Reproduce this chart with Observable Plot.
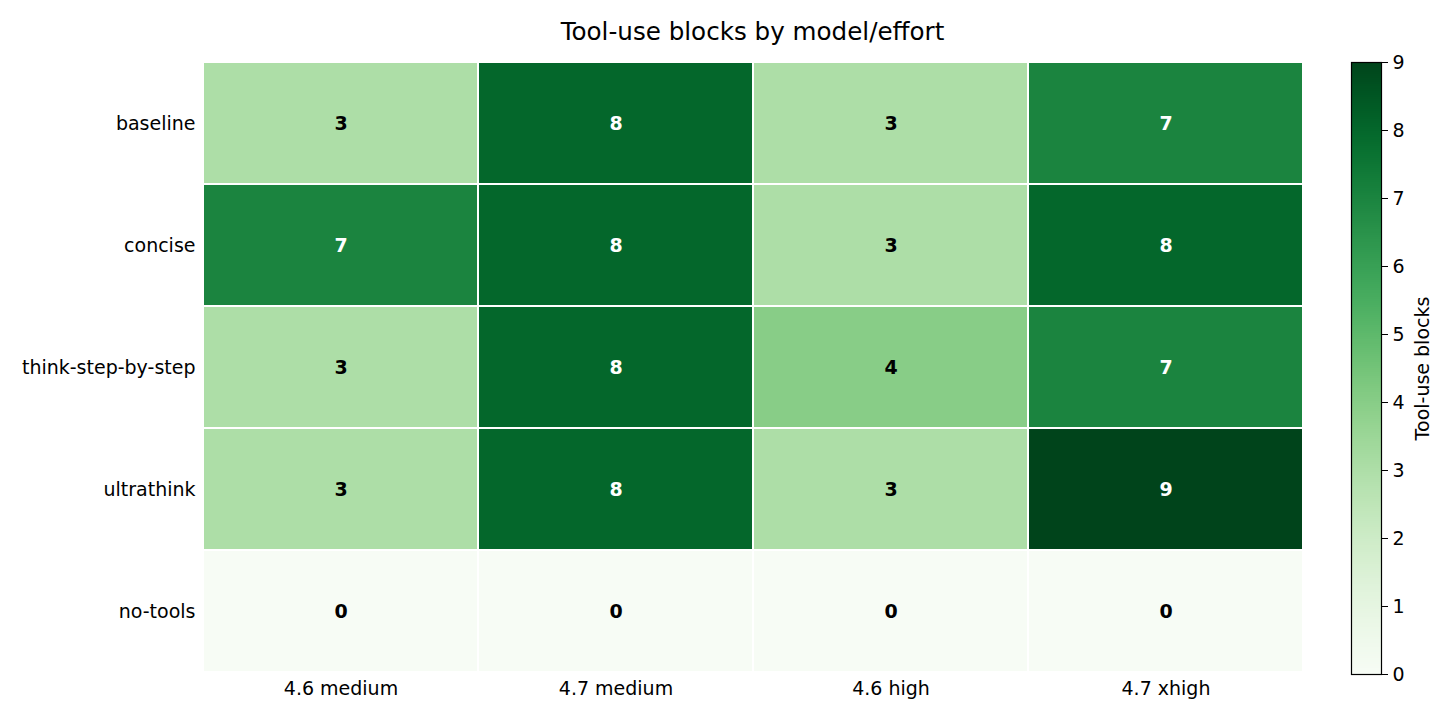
<!DOCTYPE html>
<html>
<head>
<meta charset="utf-8">
<script src="https://cdn.jsdelivr.net/npm/d3@7"></script>
<script src="https://cdn.jsdelivr.net/npm/@observablehq/plot@0.6"></script>
<style>
  html, body { margin: 0; padding: 0; background: #fff; }
  #wrap { width: 1456px; height: 721px; position: relative; font-family: "DejaVu Sans", sans-serif; }
  #title { position: absolute; left: 0; width: 1505px; top: 17px; text-align: center; font-size: 24.6px; color: #000; }
  #heat { position: absolute; left: 0; top: 50px; }
  #cbar { position: absolute; left: 1330px; top: 50px; }
</style>
</head>
<body>
<div id="wrap">
  <div id="title">Tool-use blocks by model/effort</div>
  <div id="heat"></div>
  <div id="cbar"></div>
</div>
<script>
const prompts = ["baseline", "concise", "think-step-by-step", "ultrathink", "no-tools"];
const configs = ["4.6 medium", "4.7 medium", "4.6 high", "4.7 xhigh"];
const values = [
  [3, 8, 3, 7],
  [7, 8, 3, 8],
  [3, 8, 4, 7],
  [3, 8, 3, 9],
  [0, 0, 0, 0]
];
const colorTicks = [0, 1, 2, 3, 4, 5, 6, 7, 8, 9];
const vmin = 0, vmax = 9;

const cells = [];
prompts.forEach((p, i) => configs.forEach((c, j) => cells.push({prompt: p, config: c, value: values[i][j]})));

const colorOpts = {type: "linear", scheme: "greens", domain: [vmin, vmax]};
const font = {fontFamily: "DejaVu Sans", fontSize: "19px", color: "#000", background: "transparent", overflow: "visible"};

const heat = Plot.plot({
  width: 1330,
  height: 671,
  marginLeft: 202,
  marginRight: 27,
  marginTop: 11,
  marginBottom: 49,
  style: font,
  x: {domain: configs, padding: 0, label: null},
  y: {domain: prompts, padding: 0, label: null},
  color: colorOpts,
  marks: [
    Plot.cell(cells, {x: "config", y: "prompt", fill: "value", inset: 1}),
    Plot.text(cells, {x: "config", y: "prompt", text: d => String(d.value), fontWeight: "bold", fontSize: 19,
      fill: d => d.value >= 6 ? "#ffffff" : "#000000"}),
    Plot.axisX({tickSize: 0, tickPadding: 9, fontSize: 19, label: null}),
    Plot.axisY({tickSize: 0, tickPadding: 7, fontSize: 19, label: null})
  ]
});
document.getElementById("heat").appendChild(heat);

const step = 0.03;
const grad = d3.range(vmin, vmax, step).map(v => ({v0: v, v1: Math.min(v + 2 * step, vmax), c: v + step / 2}));

const cbar = Plot.plot({
  width: 126,
  height: 671,
  marginLeft: 21,
  marginRight: 75,
  marginTop: 12,
  marginBottom: 47,
  style: font,
  x: {domain: [0, 1], axis: null},
  y: {domain: [vmin, vmax]},
  color: colorOpts,
  marks: [
    Plot.rectY(grad, {x1: 0, x2: 1, y1: "v0", y2: "v1", fill: "c", shapeRendering: "crispEdges"}),
    Plot.frame({stroke: "#000", strokeWidth: 1.2}),
    Plot.axisY({anchor: "right", ticks: colorTicks, tickFormat: d3.format("d"), tickSize: 6, tickPadding: 5, fontSize: 19,
      label: "Tool-use blocks", labelAnchor: "center", labelArrow: "none", labelOffset: 47})
  ]
});
document.getElementById("cbar").appendChild(cbar);
</script>
</body>
</html>
